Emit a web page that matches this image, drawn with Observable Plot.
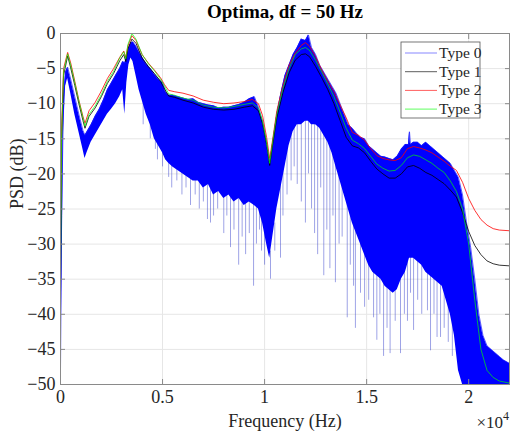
<!DOCTYPE html>
<html>
<head>
<meta charset="utf-8">
<script src="https://cdn.jsdelivr.net/npm/d3@7"></script>
<script src="https://cdn.jsdelivr.net/npm/@observablehq/plot@0.6"></script>
<style>
  html, body { margin: 0; padding: 0; background: #ffffff; }
  #chart { width: 511px; height: 434px; }
</style>
</head>
<body>
<div id="chart"></div>
<script>
// ---- Text ----
const titleText = "Optima, df = 50 Hz";
const xLabel = "Frequency (Hz)";
const yLabel = "PSD (dB)";
const seriesNames = ["Type 0", "Type 1", "Type 2", "Type 3"];
const seriesColors = ["#0000ff", "#000000", "#ff0000", "#00ff00"];

// ---- Ticks ----
const xTicks = [0, 5000, 10000, 15000, 20000];
const xTickLabels = ["0", "0.5", "1", "1.5", "2"];
const yTicks = [0, -5, -10, -15, -20, -25, -30, -35, -40, -45, -50];

// ---- Smooth series (Types 1-3), frequency in Hz ----
const lineF = [0,50,150,350,500,700,900,1100,1200,1400,1700,2000,2300,2600,2900,3100,3200,3300,3500,3700,4000,4300,4600,4900,5100,5300,5600,6000,6500,7000,7500,8000,8500,9000,9400,9700,9900,10100,10250,10400,10600,10900,11200,11500,11800,12000,12200,12500,12800,13100,13400,13700,14000,14300,14600,14900,15200,15500,15800,16100,16400,16700,17000,17300,17600,17900,18200,18500,18800,19100,19400,19700,20000,20300,20600,20900,21200,21500,22000];
const type1 = [-37,-15.5,-6,-3.2,-4.9,-7.4,-10,-12.4,-13.5,-11.8,-10.6,-9,-7.1,-5.7,-3.9,-3,-4,-2.2,-0.8,-1.4,-3.5,-4.7,-5.7,-6.8,-7.9,-8.9,-9.1,-9.5,-9.9,-10.5,-10.8,-10.9,-10.8,-10.5,-10.3,-11,-12.8,-15.8,-18.8,-15.7,-12,-8.4,-5.6,-3.8,-3,-2.9,-3.3,-4.7,-6.3,-8,-10,-12.4,-14.8,-16,-16.3,-17,-18.2,-19.3,-20,-20.6,-20.6,-20,-19,-18.8,-19.2,-19.8,-20.2,-20.8,-21.4,-22.3,-23.3,-25.5,-28.2,-30.2,-31.5,-32.4,-32.8,-33,-33.1];
const type2 = [-27.5,-14,-5,-2.7,-4.2,-6.8,-9.5,-11.8,-12.8,-11,-9.8,-8.2,-6.4,-5,-3.4,-2.5,-3.4,-1.8,-0.3,-1,-3,-4.2,-5.2,-6.3,-7.3,-8.1,-8.3,-8.5,-8.9,-9.5,-9.8,-10,-9.9,-9.7,-9.4,-10,-11.7,-14.8,-17.8,-15,-11,-7.4,-4.5,-2.8,-1.7,-1.3,-1.8,-3.3,-5.2,-6.8,-8.3,-10.2,-12,-14.1,-14.5,-15.2,-16.4,-17.4,-17.8,-18,-18.1,-17.7,-16.4,-16.1,-16.3,-16.6,-17,-17.6,-18.2,-18.9,-19.5,-21.2,-23.5,-25.2,-26.5,-27.3,-27.8,-28,-28.1];
const type3 = [-35,-15,-5.5,-2.9,-4.5,-7,-9.6,-12,-13.2,-11.5,-10.3,-8.7,-6.8,-5.4,-3.5,-2.6,-3.6,-1.6,0,-0.8,-3,-4.3,-5.3,-6.5,-7.5,-8.6,-8.8,-9.2,-9.5,-10.2,-10.5,-10.6,-10.4,-10.1,-9.9,-10.6,-12.5,-15.5,-18.5,-15.3,-11.5,-7.8,-5,-3,-2.2,-2,-2.4,-3.8,-5.5,-7.2,-9,-11.2,-13.5,-15.2,-15.7,-16.4,-17.5,-18.6,-19.2,-19.6,-19.5,-18.8,-17.7,-17.3,-17.5,-18,-18.5,-19.2,-19.8,-21,-22.5,-25,-30,-38,-45,-48,-49,-49.5,-49.8];

// ---- Type 0 (noisy): dense band, upper and lower edge ----
const blueF = [0,50,100,150,250,350,500,700,900,1100,1200,1300,1500,1700,1900,2100,2300,2500,2700,2900,3050,3150,3250,3350,3450,3550,3700,3850,4000,4200,4400,4600,4800,5000,5150,5300,5500,5750,6000,6250,6500,6750,7000,7250,7500,7750,8000,8250,8500,8750,9000,9250,9500,9700,9900,10100,10250,10400,10600,10800,11000,11200,11400,11600,11800,12000,12150,12300,12500,12700,12900,13100,13300,13500,13700,13900,14100,14300,14500,14700,14900,15100,15300,15500,15700,15900,16100,16300,16500,16700,16900,17050,17100,17150,17300,17500,17700,17900,18100,18300,18500,18700,18900,19100,19300,19500,19700,19900,20100,20300,20500,20700,20900,21100,21300,21500,21700,22000];
const type0Hi = [-48,-28,-18,-9,-5.5,-4.8,-6.5,-9,-11.5,-13.8,-14.5,-14,-13,-11.8,-10.8,-9.5,-8,-7,-6,-5,-4,-4.2,-3.2,-2,-1.3,-1.2,-1.8,-2.6,-3.4,-4.3,-5,-5.8,-6.5,-7,-8.3,-8.8,-8.8,-9,-9.2,-9.4,-9.3,-9.8,-10,-10.2,-10.3,-10.6,-10.5,-10.5,-10.3,-10.1,-9.8,-9.3,-9,-10.5,-12.5,-15.5,-18.5,-15.5,-11.5,-8.5,-6,-4.5,-3,-2,-0.8,-1,-0.2,-2,-3,-4.5,-5.5,-6.5,-7.5,-8.5,-10,-11.5,-13,-13.5,-14.2,-14.8,-15,-16,-16.5,-17,-17.5,-17.6,-17.8,-18,-17.5,-16.5,-15.8,-15.8,-14,-15.8,-15.5,-15.5,-16,-15.5,-16,-16.5,-17,-17.5,-18,-18.5,-19.5,-20.5,-23,-27,-30.5,-35,-40,-43,-44.5,-45,-45.5,-46,-46.5,-47];
const type0Lo = [-50,-40,-26,-14,-7.5,-6.4,-8.5,-11.5,-14,-16.5,-17.8,-17,-15.5,-14.5,-13.5,-12.5,-11.5,-10.8,-10,-9,-8,-11.5,-7,-4.5,-3.5,-4,-6,-8,-9.5,-11.5,-13,-15,-16,-17,-18,-18.5,-19,-19.5,-20,-20.5,-21,-21,-22,-21.5,-23,-22.5,-23.5,-23,-24,-23.5,-24.5,-24,-24.5,-25,-27,-30,-32,-29,-25,-22,-19,-16,-14,-13,-13,-12.5,-12.5,-13,-13,-13.5,-14.5,-15.5,-17,-19,-21,-23,-25,-27,-28.5,-30,-31.5,-33,-34,-34.5,-35,-36,-36.5,-37,-36.5,-35,-34,-32.5,-32,-32,-32,-32.5,-33,-34,-34.5,-35,-35.5,-36,-38,-40,-43,-48,-50,-50,-50,-50,-50,-50,-50,-50,-50,-50,-50,-50];

// ---- Type 0 deep dips (individual downward spikes) ----
const spikeF = [4050,4400,4650,4750,5000,5300,5450,5700,5950,6150,6370,6600,6800,7000,7200,7350,7500,7700,8000,8150,8330,8500,8730,8900,9070,9250,9460,9600,9750,9850,10000,10290,10500,10780,10900,11100,11300,11450,11600,11800,12000,12150,12300,12450,12600,12750,12900,13050,13200,13350,13470,13650,13800,14050,14200,14360,14450,14700,14900,15100,15340,15500,15650,15830,16000,16150,16400,16660,16850,17000,17150,17300,17500,17700,17980,18130,18300,18450,18620,18800,19000,19200];
const spikeTop = [-9,-12,-14,-15,-16,-17.5,-18,-18.5,-19,-19,-20,-20,-20,-21,-20.5,-21,-22,-21.5,-22.5,-22,-22,-23,-22.5,-23,-23.5,-23,-23.5,-24,-24,-26,-28,-31,-27,-20,-18,-16,-14,-13,-12.5,-12.5,-12,-12,-12.5,-12.5,-13,-13,-14,-15,-16,-17,-18,-20,-21,-24,-25,-26.5,-27.5,-29,-30.5,-32,-33,-33.5,-34,-35,-35.5,-36,-36,-34,-33,-31,-31,-31,-31.5,-32,-33,-33.5,-34,-34.5,-35,-35.5,-37,-39];
const spikeTip = [-13,-15,-16.5,-18,-19,-20.5,-22,-21,-23,-22,-24.5,-23,-25,-24,-26.5,-27,-26,-25,-28.5,-26,-30.5,-28,-33,-29,-31.5,-28.5,-36,-30,-28,-31,-33,-35,-31,-32,-26,-23,-21,-19,-21.5,-24,-27,-20,-25,-28.5,-31.5,-22,-34.5,-28,-33.5,-26,-35.5,-30,-29,-40.5,-33,-36,-42,-37,-39,-38,-40.5,-43.7,-40,-46,-42,-45.6,-41,-45.6,-40,-41,-37,-42.3,-38,-40,-39.5,-45.2,-40,-43.3,-43.3,-42,-44,-46];

// ---- Build tables ----
const band = blueF.map((f, i) => ({f, hi: type0Hi[i], lo: type0Lo[i]}));
const spikes = spikeF.map((f, i) => ({f, top: spikeTop[i], tip: spikeTip[i]}));
const lines = [];
[type1, type2, type3].forEach((arr, s) => arr.forEach((v, i) => lines.push({f: lineF[i], v, s: s + 1})));

const serif = "'Liberation Serif', 'Times New Roman', serif";
const axisColor = "#8a8a8a";
const textColor = "#262626";

const chart = Plot.plot({
  width: 511,
  height: 434,
  marginLeft: 60,
  marginRight: 2,
  marginTop: 33,
  marginBottom: 50,
  style: {fontFamily: serif, fontSize: "16px", color: textColor, background: "#ffffff", overflow: "visible"},
  x: {domain: [0, 22000]},
  y: {domain: [-50, 0]},
  marks: [
    Plot.gridX(xTicks, {stroke: "#e6e6e6", strokeOpacity: 1}),
    Plot.gridY(yTicks, {stroke: "#e6e6e6", strokeOpacity: 1}),
    Plot.ruleX(spikes, {x: "f", y1: "top", y2: "tip", stroke: "#3a44cc", strokeOpacity: 0.55, strokeWidth: 0.9, clip: true}),
    Plot.areaY(band, {x: "f", y1: "lo", y2: "hi", fill: seriesColors[0], fillOpacity: 1, clip: true}),
    Plot.line(band, {x: "f", y: "hi", stroke: "#1a1aff", strokeWidth: 0.7, clip: true}),
    Plot.line(lines.filter(d => d.s === 1), {x: "f", y: "v", stroke: seriesColors[1], strokeWidth: 0.8, clip: true}),
    Plot.line(lines.filter(d => d.s === 2), {x: "f", y: "v", stroke: seriesColors[2], strokeWidth: 0.8, clip: true}),
    Plot.line(lines.filter(d => d.s === 3), {x: "f", y: "v", stroke: seriesColors[3], strokeWidth: 0.8, strokeOpacity: 0.85, clip: true}),
    Plot.frame({stroke: axisColor, strokeWidth: 1}),
    Plot.axisX(xTicks, {anchor: "bottom", tickSize: -5, tickPadding: 11, stroke: axisColor,
      tickFormat: (d) => xTickLabels[xTicks.indexOf(d)], fill: textColor, label: null}),
    Plot.axisX(xTicks, {anchor: "top", tickSize: -5, stroke: axisColor, tickFormat: () => "", label: null}),
    Plot.axisY(yTicks, {anchor: "left", tickSize: -5, tickPadding: 10, stroke: axisColor, fill: textColor, label: null}),
    Plot.axisY(yTicks, {anchor: "right", tickSize: -5, stroke: axisColor, tickFormat: () => "", label: null}),
    Plot.text([titleText], {frameAnchor: "top", dy: -16, fontWeight: "bold", fontSize: 19, fill: "#000", lineAnchor: "bottom"}),
    Plot.text([xLabel], {frameAnchor: "bottom", dy: 37, fontSize: 18, fill: textColor, lineAnchor: "middle"}),
    Plot.text([yLabel], {frameAnchor: "left", dx: -43, rotate: -90, fontSize: 18, fill: textColor, lineAnchor: "middle"})
  ]
});

document.getElementById("chart").appendChild(chart);

const svg = d3.select(chart);
// force the serif face on every text element
svg.selectAll("text").style("font-family", serif);
// tick label size
svg.selectAll("g[aria-label='x-axis tick label'] text, g[aria-label='y-axis tick label'] text")
  .style("font-size", "18px");

// ---- ×10^4 exponent label ----
const ex = svg.append("text")
  .attr("x", 509).attr("y", 428)
  .attr("text-anchor", "end")
  .style("font-family", serif).style("font-size", "17px").attr("fill", textColor);
ex.append("tspan").text("×10");
ex.append("tspan").attr("dy", -8).style("font-size", "12px").text("4");

// ---- Legend ----
const lg = svg.append("g").attr("text-anchor", "start");
lg.append("rect").attr("x", 401).attr("y", 42).attr("width", 79).attr("height", 76)
  .attr("fill", "#ffffff").attr("stroke", "#555555").attr("stroke-width", 0.8);
seriesNames.forEach((name, i) => {
  const y = 53 + i * 18.7;
  lg.append("line").attr("x1", 405).attr("x2", 437).attr("y1", y).attr("y2", y)
    .attr("stroke", seriesColors[i]).attr("stroke-width", 0.8).attr("stroke-opacity", i === 0 ? 0.6 : 0.8);
  lg.append("text").attr("x", 439).attr("y", y + 5).attr("fill", textColor)
    .attr("text-anchor", "start").style("font-family", serif).style("font-size", "15.5px").text(name);
});
</script>
</body>
</html>
